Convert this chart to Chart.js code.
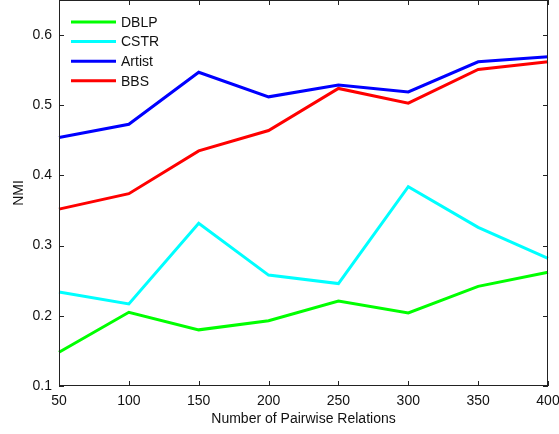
<!DOCTYPE html>
<html>
<head>
<meta charset="utf-8">
<script src="https://cdn.jsdelivr.net/npm/chart.js@4"></script>
<style>
  html, body { margin: 0; padding: 0; background: #fff; }
  #wrap { width: 559px; height: 434px; }
</style>
</head>
<body>
<div id="wrap"><canvas id="chart" width="559" height="434"></canvas></div>
<script>
// data
const relations = [50, 100, 150, 200, 250, 300, 350, 400];
const dblp   = [0.148, 0.205, 0.180, 0.193, 0.221, 0.204, 0.242, 0.262];
const cstr   = [0.234, 0.217, 0.332, 0.258, 0.246, 0.384, 0.326, 0.282];
const artist = [0.454, 0.473, 0.547, 0.512, 0.529, 0.519, 0.562, 0.569];
const bbs    = [0.352, 0.374, 0.435, 0.464, 0.524, 0.503, 0.551, 0.562];
const yTicks = [0.1, 0.2, 0.3, 0.4, 0.5, 0.6];

const FONT = 'Liberation Sans, Arial, Helvetica, sans-serif';

function series(label, values, color) {
    return {
        label: label,
        data: values,
        borderColor: color,
        backgroundColor: color,
        borderWidth: 3,
        pointRadius: 0,
        tension: 0,
        fill: false
    };
}

// matlab style box with inward ticks
const boxPlugin = {
    id: 'box',
    afterDraw(chart) {
        const ctx = chart.ctx;
        const a = chart.chartArea;
        const xs = chart.scales.x, ys = chart.scales.y;
        ctx.save();
        ctx.strokeStyle = '#222';
        ctx.lineWidth = 1;
        ctx.strokeRect(a.left + 0.5, a.top + 0.5, a.right - a.left - 1, a.bottom - a.top - 1);
        ctx.beginPath();
        relations.forEach((v, i) => {
            const px = Math.round(xs.getPixelForValue(i)) + 0.5;
            ctx.moveTo(px, a.bottom); ctx.lineTo(px, a.bottom - 5);
            ctx.moveTo(px, a.top); ctx.lineTo(px, a.top + 5);
        });
        yTicks.forEach(v => {
            const py = Math.round(ys.getPixelForValue(v)) + 0.5;
            ctx.moveTo(a.left, py); ctx.lineTo(a.left + 5, py);
            ctx.moveTo(a.right, py); ctx.lineTo(a.right - 5, py);
        });
        ctx.stroke();

        // legend in the upper left corner
        ctx.font = '14px ' + FONT;
        ctx.textBaseline = 'middle';
        ctx.fillStyle = '#111';
        chart.data.datasets.forEach((ds, i) => {
            const y = 22 + i * 19.6;
            ctx.strokeStyle = ds.borderColor;
            ctx.lineWidth = 3;
            ctx.beginPath();
            ctx.moveTo(71, y); ctx.lineTo(116, y);
            ctx.stroke();
            ctx.fillText(ds.label, 121, y + 1);
        });
        ctx.restore();
    }
};

const ctx = document.getElementById('chart').getContext('2d');
const chart = new Chart(ctx, {
    type: 'line',
    data: {
        labels: relations,
        datasets: [
            series('DBLP', dblp, '#00ff00'),
            series('CSTR', cstr, '#00ffff'),
            series('Artist', artist, '#0000ff'),
            series('BBS', bbs, '#ff0000')
        ]
    },
    options: {
        responsive: false,
        animation: false,
        layout: { padding: 0 },
        plugins: {
            legend: { display: false },
            tooltip: { enabled: false }
        },
        scales: {
            x: {
                type: 'category',
                offset: false,
                grid: { display: false, drawTicks: false },
                border: { display: false },
                ticks: {
                    color: '#111',
                    font: { family: FONT, size: 14 },
                    padding: 7,
                    maxRotation: 0,
                    autoSkip: false
                },
                title: {
                    display: true,
                    text: 'Number of Pairwise Relations',
                    color: '#111',
                    font: { family: FONT, size: 14 },
                    padding: { top: 0, bottom: 6 }
                },
                afterFit(scale) {
                    scale.height = 48;
                    scale.paddingRight = 11;
                }
            },
            y: {
                min: 0.1,
                max: 0.65,
                grid: { display: false, drawTicks: false },
                border: { display: false },
                afterBuildTicks(scale) { scale.ticks = yTicks.map(v => ({ value: v })); },
                ticks: {
                    color: '#111',
                    font: { family: FONT, size: 14 },
                    padding: 7,
                    callback: v => v.toFixed(1)
                },
                title: {
                    display: true,
                    text: 'NMI',
                    color: '#111',
                    font: { family: FONT, size: 14 },
                    padding: { top: 11, bottom: 0 }
                },
                afterFit(scale) {
                    scale.width = 59;
                    scale.paddingTop = 0;
                    scale.paddingBottom = 0;
                }
            }
        }
    },
    plugins: [boxPlugin]
});
</script>
</body>
</html>
